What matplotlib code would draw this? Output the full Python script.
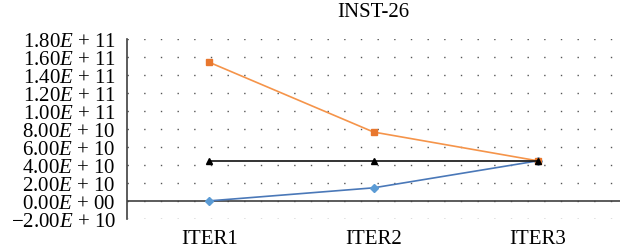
import numpy as np
import matplotlib
matplotlib.use("Agg")
import matplotlib.pyplot as plt
from matplotlib.ticker import FuncFormatter

plt.rcParams['font.family'] = ['Liberation Serif', 'DejaVu Serif']
plt.rcParams['mathtext.fontset'] = 'custom'
plt.rcParams['mathtext.rm'] = 'Liberation Serif'
plt.rcParams['mathtext.it'] = 'Liberation Serif:italic'

# data
iters = ["ITER1", "ITER2", "ITER3"]
series_blue = [0.0, 1.45e10, 4.45e10]
series_orange = [1.54e11, 7.65e10, 4.45e10]
series_black = [4.45e10, 4.45e10, 4.45e10]
yticks = np.arange(-2e10, 1.8e11 + 1, 2e10)

fig = plt.figure(figsize=(6.2, 2.51), dpi=100)
ax = fig.add_axes([0.205, 0.124, 0.795, 0.717])

x = np.arange(len(iters))

for y in yticks:
    ax.axhline(y, color="#555555", lw=1.0, ls=(0, (1, 11)), zorder=0)
ax.axhline(0, color="#404040", lw=1.2, zorder=1)

ax.plot(x, series_blue, color="#4a78b8", lw=1.2, marker="D", ms=4,
        mfc="#5b9bd5", mec="#5b9bd5", zorder=3)
ax.plot(x, series_orange, color="#f5944a", lw=1.2, marker="s", ms=4,
        mfc="#e8772e", mec="#e8772e", zorder=3)
ax.plot(x, series_black, color="#111111", lw=1.2, marker="^", ms=5,
        mfc="#000000", mec="#000000", zorder=4)

ax.set_xlim(-0.5, 2.5)
ax.set_ylim(-2e10, 1.8e11)
ax.set_xticks(x)
ax.set_xticklabels(iters)
ax.set_yticks(yticks)


def sci(v, pos):
    if v == 0:
        return r"0.00$E$ + 00"
    exp = int(np.floor(np.log10(abs(v))))
    mant = v / 10 ** exp
    s = "%.2f" % abs(mant)
    sign = "\u2212" if v < 0 else ""
    return r"%s%s$E$ + %d" % (sign, s, exp)


ax.yaxis.set_major_formatter(FuncFormatter(sci))
ax.tick_params(axis="both", length=0, labelsize=15)
ax.tick_params(axis="y", pad=8)
ax.tick_params(axis="x", pad=7)

for s in ["top", "right", "bottom"]:
    ax.spines[s].set_visible(False)
ax.spines["left"].set_color("#404040")
ax.spines["left"].set_linewidth(1.2)

fig.text(0.602, 0.952, "INST-26", ha="center", va="center", fontsize=15)

fig.savefig("out.png", dpi=100)
